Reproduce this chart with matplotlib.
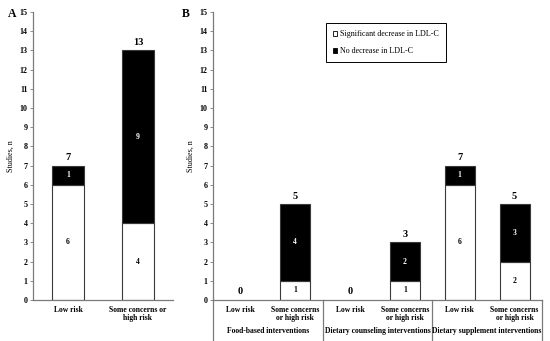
import matplotlib.pyplot as plt
from matplotlib.patches import Patch
import matplotlib.transforms as mtransforms
import numpy as np

plt.rcParams['font.family'] = ['Liberation Serif', 'DejaVu Serif']
plt.rcParams['font.weight'] = 'bold'

# Panel A data
a_cats = ["Low risk", "Some concerns or\nhigh risk"]
a_decrease = [6, 4]
a_nodecrease = [1, 9]

# Panel B data
b_cats = ["Low risk", "Some concerns\nor high risk"] * 3
b_groups = ["Food-based interventions", "Dietary counseling interventions",
            "Dietary supplement interventions"]
b_decrease = [0, 1, 0, 1, 6, 2]
b_nodecrease = [0, 4, 0, 2, 1, 3]

edge = "#3a3a3a"
spine_col = "#7a7a7a"

fig = plt.figure(figsize=(5.5, 3.41), dpi=100)
axA = fig.add_axes([33 / 550, 1 - 300 / 341, 140 / 550, 288 / 341])
axB = fig.add_axes([213 / 550, 1 - 300 / 341, 329 / 550, 288 / 341])


def draw(ax, cats, dec, nodec, width):
    x = np.arange(len(cats)) + 0.5
    dec = np.array(dec)
    nodec = np.array(nodec)
    tot = dec + nodec
    for i in range(len(cats)):
        if tot[i] == 0:
            ax.annotate("0", (x[i], 0), xytext=(0, 3), textcoords="offset points",
                        ha="center", va="bottom", fontsize=7.5, fontweight="bold")
            continue
        ax.bar(x[i], dec[i], width, color="white", edgecolor=edge, linewidth=0.8)
        ax.bar(x[i], nodec[i], width, bottom=dec[i], color="black",
               edgecolor=edge, linewidth=0.8)
        ax.text(x[i], dec[i] / 2, str(dec[i]), ha="center", va="center",
                fontsize=5.5, color="black")
        ax.text(x[i], dec[i] + nodec[i] / 2, str(nodec[i]), ha="center",
                va="center", fontsize=5.5, color="white")
        ax.annotate(str(tot[i]), (x[i], tot[i]), xytext=(0, 2.5),
                    textcoords="offset points", ha="center", va="bottom",
                    fontsize=7.5, fontweight="bold")
    ax.set_xlim(0, len(cats))
    ax.set_ylim(0, 15)
    ax.set_yticks(range(16))
    ax.set_xticks(x)
    ax.set_xticklabels(cats, fontsize=5.5, linespacing=1.15)
    ax.tick_params(axis="x", length=0, pad=4)
    ax.tick_params(axis="y", length=2, width=0.6, labelsize=5.8, pad=2,
                   color=spine_col)
    for s in ["top", "right"]:
        ax.spines[s].set_visible(False)
    for s in ["left", "bottom"]:
        ax.spines[s].set_color(spine_col)
        ax.spines[s].set_linewidth(0.9)
    ax.set_ylabel("Studies, n", fontsize=5.8, labelpad=3)


draw(axA, a_cats, a_decrease, a_nodecrease, 0.46)
draw(axB, b_cats, b_decrease, b_nodecrease, 0.55)

# group labels and separators in panel B
trans = mtransforms.blended_transform_factory(axB.transData, axB.transAxes)
for k, g in enumerate(b_groups):
    axB.text(2 * k + 1, -0.108, g, transform=trans, ha="center", va="center",
             fontsize=5.5, clip_on=False)
for xs in [0, 2, 4, 6]:
    axB.plot([xs, xs], [0, -0.142], transform=trans, color=spine_col,
             linewidth=0.9, clip_on=False)

fig.text(8 / 550, 1 - 14 / 341, "A", fontsize=8.5, fontweight="bold", va="center")
fig.text(182 / 550, 1 - 14 / 341, "B", fontsize=8.5, fontweight="bold", va="center")

handles = [Patch(facecolor="white", edgecolor="black", linewidth=0.6),
           Patch(facecolor="black", edgecolor="black", linewidth=0.6)]
leg = fig.legend(handles, ["Significant decrease in LDL-C", "No decrease in LDL-C"],
                 loc="upper left", bbox_to_anchor=(322 / 550, 1 - 19 / 341),
                 prop={"family": "Liberation Serif", "weight": "normal", "size": 5.8},
                 handlelength=0.5, handleheight=0.5, handletextpad=0.3,
                 labelspacing=1.1, borderpad=0.9, fancybox=False,
                 edgecolor="black", framealpha=1)
leg.get_frame().set_linewidth(0.7)

plt.savefig("out.png", dpi=100)
